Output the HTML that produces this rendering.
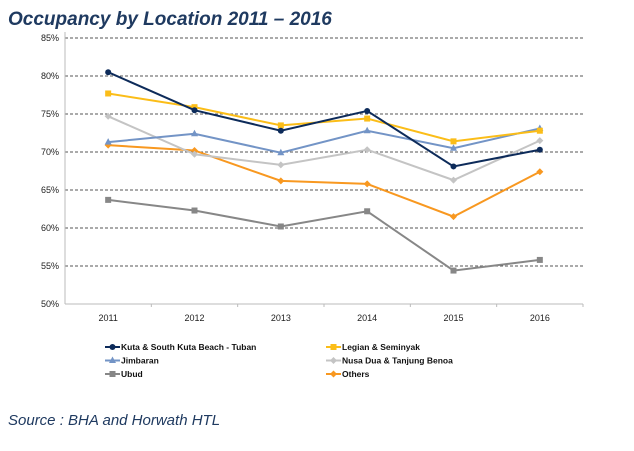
<!DOCTYPE html>
<html><head><meta charset="utf-8"><style>
body{margin:0;background:#fff;width:634px;height:446px;overflow:hidden;font-family:"Liberation Sans",sans-serif}
</style></head><body>
<svg width="634" height="446">
<text x="8" y="25" font-size="19" font-style="italic" font-weight="bold" fill="#1f3a60">Occupancy by Location 2011 – 2016</text>
<g id="grid"></g><g id="series"></g><g id="legend"></g>
<text x="8" y="425" font-size="15" font-style="italic" fill="#1f3a60">Source : BHA and Horwath HTL</text>
</svg>
<script>
const years=["2011","2012","2013","2014","2015","2016"];
const yTicks=[50,55,60,65,70,75,80,85];
const seriesNames=["Kuta & South Kuta Beach - Tuban","Legian & Seminyak","Jimbaran","Nusa Dua & Tanjung Benoa","Ubud","Others"];
const kuta=[80.5,75.5,72.8,75.4,68.1,70.3];
const legian=[77.7,75.9,73.5,74.4,71.4,72.8];
const jimbaran=[71.3,72.4,69.9,72.8,70.5,73.1];
const nusaDua=[74.7,69.7,68.3,70.3,66.3,71.5];
const ubud=[63.7,62.3,60.2,62.2,54.4,55.8];
const others=[70.9,70.2,66.2,65.8,61.5,67.4];
const NS="http://www.w3.org/2000/svg";
const L=65,R=583,T=38,B=304;
const y=v=>B-(v-50)/35*(B-T);
const x=i=>L+(i+0.5)*(R-L)/years.length;
function mk(tag,at,parent){const e=document.createElementNS(NS,tag);for(const k in at)e.setAttribute(k,at[k]);parent.appendChild(e);return e;}
const grid=document.getElementById('grid');
yTicks.forEach(t=>{
  if(t>50){const g=mk('line',{x1:L,x2:R,y1:y(t),y2:y(t),stroke:'#555','stroke-dasharray':'3,2','stroke-width':1},grid);
  
  }
  const tx=mk('text',{x:L-6,y:y(t)+3,'font-size':9,'text-anchor':'end',fill:'#222'},grid);tx.textContent=t+'%';
  
  
});
let ax=mk('line',{x1:L,x2:L,y1:T-6,y2:B,stroke:'#bbb'},grid);


ax=mk('line',{x1:L,x2:R,y1:B,y2:B,stroke:'#bbb'},grid);


years.forEach((yr,i)=>{
  const tk=mk('line',{x1:L+(i+1)*(R-L)/6,x2:L+(i+1)*(R-L)/6,y1:B,y2:B+3,stroke:'#bbb'},grid);
  
  
  const tx=mk('text',{x:x(i),y:B+17,'font-size':9,'text-anchor':'middle',fill:'#222'},grid);tx.textContent=yr;
  
  
});
const data=[kuta,legian,jimbaran,nusaDua,ubud,others];
const colors=["#0d2b5a","#fbbd18","#7394c6","#c4c4c4","#878787","#f89820"];
const markers=["circle","square","triangle","diamond","square","diamond"];
const sg=document.getElementById('series');
function marker(kind,cx,cy,c,p){
  if(kind==='circle')return mk('circle',{cx,cy,r:3,fill:c},p);
  if(kind==='square')return mk('rect',{x:cx-3,y:cy-3,width:6,height:6,fill:c},p);
  if(kind==='triangle')return mk('polygon',{points:`${cx},${cy-4} ${cx-3.5},${cy+2.5} ${cx+3.5},${cy+2.5}`,fill:c},p);
  return mk('polygon',{points:`${cx},${cy-3.5} ${cx+3.5},${cy} ${cx},${cy+3.5} ${cx-3.5},${cy}`,fill:c},p);
}
[4,5,3,2,1,0].forEach(s=>{
  const g=mk('g',{},sg);
  
  
  const ln=mk('polyline',{points:data[s].map((v,i)=>x(i)+','+y(v)).join(' '),fill:'none',stroke:colors[s],'stroke-width':2},g);
  
  
  data[s].forEach((v,i)=>{const m=marker(markers[s],x(i),y(v),colors[s],g);
    
    });
});
const lg=document.getElementById('legend');
seriesNames.forEach((n,s)=>{
  const lx=s%2?342:121, ly=347+Math.floor(s/2)*13.5;
  const g=mk('g',{},lg);
  
  
  mk('line',{x1:lx-16,x2:lx-1,y1:ly,y2:ly,stroke:colors[s],'stroke-width':2},g);
  marker(markers[s],lx-8.5,ly,colors[s],g);
  const t=mk('text',{x:lx,y:ly+3,'font-size':8.5,'font-weight':'bold',fill:'#111'},g);t.textContent=n;
});
</script>
</body></html>
